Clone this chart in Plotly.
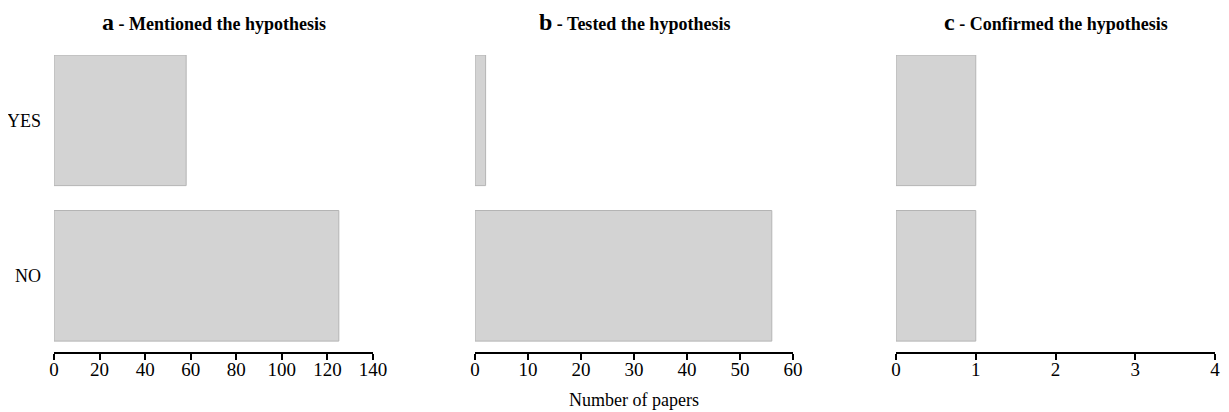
import plotly.graph_objects as go

categories = ["NO", "YES"]
mentioned = [125, 58]
tested = [56, 2]
confirmed = [1, 1]
panel_letters = ["a", "b", "c"]
panel_titles = ["Mentioned the hypothesis", "Tested the hypothesis", "Confirmed the hypothesis"]
x_max = [140, 60, 4]
x_dtick = [20, 10, 1]
x_label = "Number of papers"

OFF = 8  # page body offset
W, H = 1229 - OFF, 412 - OFF
domains_px = [(54 - OFF, 373 - OFF), (475 - OFF, 793 - OFF), (896 - OFF, 1215 - OFF)]
TOP = 55 - OFF
BOTTOM = 412 - 352
FONT = "Liberation Serif, Times New Roman, serif"

fig = go.Figure()
series = [mentioned, tested, confirmed]
for i, vals in enumerate(series):
    xa = "x" if i == 0 else f"x{i+1}"
    ya = "y" if i == 0 else f"y{i+1}"
    fig.add_trace(go.Bar(
        x=vals, y=categories, orientation="h", xaxis=xa, yaxis=ya,
        width=0.84,
        marker=dict(color="#d3d3d3", line=dict(color="#b4b4b4", width=1)),
        showlegend=False, hoverinfo="x+y",
    ))

layout = dict(
    width=W, height=H,
    margin=dict(l=0, r=0, t=TOP, b=BOTTOM, autoexpand=False),
    plot_bgcolor="white", paper_bgcolor="white",
    font=dict(family=FONT, size=18, color="black"),
)
for i in range(3):
    sfx = "" if i == 0 else str(i + 1)
    d0, d1 = domains_px[i]
    layout[f"xaxis{sfx}"] = dict(
        domain=[d0 / W, d1 / W], range=[0, x_max[i]], dtick=x_dtick[i], tick0=0,
        showline=True, linecolor="black", linewidth=1.5,
        ticks="outside", ticklen=6, tickwidth=1.5, tickcolor="black",
        showgrid=False, zeroline=False, anchor=f"y{sfx}", automargin=False,
        tickfont=dict(size=19, family=FONT), ticklabelstandoff=-7, fixedrange=True,
    )
    layout[f"yaxis{sfx}"] = dict(
        range=[-0.49, 1.42], showline=False, showgrid=False, zeroline=False,
        ticks="", showticklabels=(i == 0), anchor=f"x{sfx}", automargin=False,
        tickfont=dict(size=18, family=FONT), ticklabelstandoff=12, fixedrange=True,
    )
fig.update_layout(**layout)

for i in range(3):
    d0, d1 = domains_px[i]
    fig.add_annotation(
        x=(d0 + d1) / 2 / W, y=1, xref="paper", yref="paper",
        xanchor="center", yanchor="middle", showarrow=False, yshift=TOP - 14,
        text=f"<b><span style='font-size:24px'>{panel_letters[i]}</span> - {panel_titles[i]}</b>",
        font=dict(size=18, family=FONT, color="black"),
    )
fig.add_annotation(
    x=(domains_px[1][0] + domains_px[1][1]) / 2 / W, xref="paper",
    y=0, yref="paper", yshift=-48, showarrow=False,
    xanchor="center", yanchor="middle",
    text=x_label, font=dict(size=18, family=FONT, color="black"),
)

fig.write_html("out.html")
